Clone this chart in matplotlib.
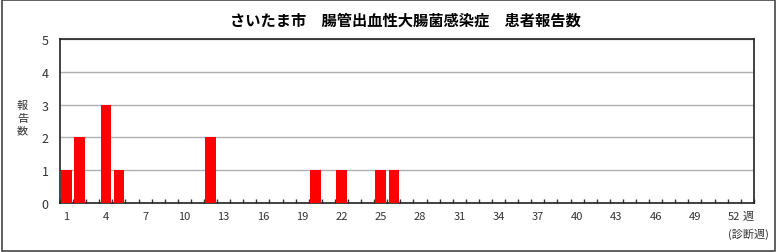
import matplotlib.pyplot as plt
import numpy as np

plt.rcParams['font.family'] = ['Noto Sans CJK JP', 'DejaVu Sans']

weeks = np.arange(1, 54)
case_weeks = [1, 2, 4, 5, 12, 20, 22, 25, 26]
case_counts = [1, 2, 3, 1, 2, 1, 1, 1, 1]
counts = np.zeros(len(weeks))
for w, c in zip(case_weeks, case_counts):
    counts[w - 1] = c
tick_weeks = list(range(1, 53, 3))
ylabel_chars = ['報', '告', '数']

fig = plt.figure(figsize=(7.77, 2.53), dpi=100)
ax = fig.add_axes([0.0772, 0.194, 0.893, 0.648])

ax.bar(weeks, counts, width=0.8, color='#ff0000', zorder=3)
ax.set_xlim(0.5, 53.5)
ax.set_ylim(0, 5)
ax.set_yticks(range(0, 6))
ax.yaxis.grid(True, color='#b0b0b0', linewidth=1)
ax.set_axisbelow(True)

ax.set_xticks(tick_weeks)
ax.set_xticklabels([str(w) for w in tick_weeks])
ax.set_xticks(np.arange(0.5, 54, 1), minor=True)
ax.tick_params(axis='x', which='major', length=0, pad=6, labelsize=8, labelcolor='#333333')
ax.tick_params(axis='x', which='minor', direction='in', length=3, width=1, color='#333333')
ax.tick_params(axis='y', length=0, pad=8, labelsize=9, labelcolor='#333333')
for s in ax.spines.values():
    s.set_color('#222222')
    s.set_linewidth(1.2)

fig.text(0.522, 0.92, 'さいたま市　腸管出血性大腸菌感染症　患者報告数',
         ha='center', va='center', fontsize=11, fontweight='bold')
for i, ch in enumerate(ylabel_chars):
    fig.text(0.029, 0.58 - i * 0.05, ch, ha='center', va='center', fontsize=8, color='#333333')
fig.text(0.963, 0.142, '週', ha='center', va='center', fontsize=8, color='#333333')
fig.text(0.99, 0.075, '(診断週)', ha='right', va='center', fontsize=8, color='#333333')

fig.patches.append(plt.Rectangle((0.002, 0.004), 0.996, 0.992, transform=fig.transFigure,
                                 fill=False, edgecolor='#444444', linewidth=1.2))

plt.savefig('out.png', dpi=100)
